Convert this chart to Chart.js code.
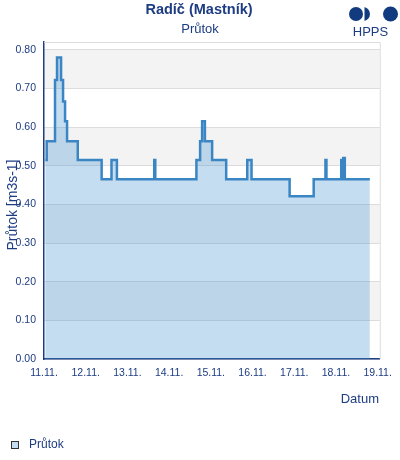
<!DOCTYPE html>
<html>
<head>
<meta charset="utf-8">
<script src="https://cdn.jsdelivr.net/npm/chart.js@4"></script>
<style>
html,body{margin:0;padding:0;background:#fff;}
#wrap{width:400px;height:460px;}
</style>
</head>
<body>
<div id="wrap"><canvas id="c" width="400" height="460"></canvas></div>
<script>
// Time in days since 11.11. 00:00 at which the flow changes to the given value
const times = [0.03, 0.065, 0.264, 0.3125, 0.409, 0.457, 0.505, 0.553, 0.81, 1.382, 1.618, 1.748, 2.644, 2.668, 3.654, 3.743, 3.791, 3.858, 4.031, 4.368, 4.873, 4.976, 5.889, 6.466, 6.748, 6.772, 7.127, 7.151, 7.175, 7.212, 7.812];
const flows = [0.515, 0.563, 0.722, 0.780, 0.722, 0.666, 0.615, 0.563, 0.515, 0.465, 0.515, 0.465, 0.515, 0.465, 0.515, 0.563, 0.615, 0.563, 0.515, 0.465, 0.515, 0.465, 0.421, 0.465, 0.515, 0.465, 0.515, 0.465, 0.520, 0.465, 0.465];
const dayLabels = ['11.11.', '12.11.', '13.11.', '14.11.', '15.11.', '16.11.', '17.11.', '18.11.', '19.11.'];
const yBands = [[0.1, 0.2], [0.3, 0.4], [0.5, 0.6], [0.7, 0.8]];

const NAVY = '#1d3c82';
const FONT = '"Liberation Sans", Arial, sans-serif';

const points = times.map((t, i) => ({x: t, y: flows[i]}));

const deco = {
  id: 'deco',
  beforeDraw(chart) {
    const {ctx, chartArea: a, scales: {y}} = chart;
    ctx.save();
    ctx.fillStyle = '#f3f3f3';
    yBands.forEach(([lo, hi]) => {
      const y1 = y.getPixelForValue(hi), y2 = y.getPixelForValue(lo);
      ctx.fillRect(a.left, y1, a.right - a.left, y2 - y1);
    });
    ctx.restore();
  },
  afterDraw(chart) {
    const {ctx, chartArea: a} = chart;
    ctx.save();
    ctx.strokeStyle = '#dcdcdc';
    ctx.lineWidth = 1;
    ctx.beginPath();
    ctx.moveTo(a.left, a.top + 0.5);
    ctx.lineTo(a.right + 0.5, a.top + 0.5);
    ctx.lineTo(a.right + 0.5, a.bottom);
    ctx.stroke();
    ctx.fillStyle = NAVY;
    ctx.textAlign = 'center';
    ctx.textBaseline = 'middle';
    ctx.font = 'bold 14.5px ' + FONT;
    ctx.fillText('Radíč (Mastník)', 199, 10);
    ctx.font = '13px ' + FONT;
    ctx.fillText('Průtok', 200, 29);
    ctx.textAlign = 'right';
    ctx.font = '13px ' + FONT;
    ctx.fillText('Datum', 379, 399);
    ctx.save();
    ctx.translate(13, 205);
    ctx.rotate(-Math.PI / 2);
    ctx.textAlign = 'center';
    ctx.font = '14px ' + FONT;
    ctx.fillText('Průtok [m3s-1]', 0, 0);
    ctx.restore();
    ctx.fillStyle = '#c5ddf1';
    ctx.fillRect(12, 442, 7, 7);
    ctx.strokeStyle = '#333';
    ctx.lineWidth = 1;
    ctx.strokeRect(11.5, 441.5, 7, 7);
    ctx.fillStyle = NAVY;
    ctx.textAlign = 'left';
    ctx.font = '12px ' + FONT;
    ctx.fillText('Průtok', 29, 445);
    ctx.fillStyle = '#123b7f';
    ctx.beginPath();
    ctx.arc(356, 14, 7, 0, Math.PI * 2);
    ctx.fill();
    ctx.save();
    ctx.beginPath();
    ctx.rect(364.5, 0, 10, 30);
    ctx.clip();
    ctx.beginPath();
    ctx.arc(363, 14, 7, 0, Math.PI * 2);
    ctx.fill();
    ctx.restore();
    ctx.beginPath();
    ctx.arc(390.5, 14, 7.5, 0, Math.PI * 2);
    ctx.fill();
    ctx.textAlign = 'center';
    ctx.font = '13px ' + FONT;
    ctx.fillStyle = NAVY;
    ctx.fillText('HPPS', 370.5, 32);
    ctx.restore();
  }
};

new Chart(document.getElementById('c'), {
  type: 'line',
  data: {
    datasets: [{
      label: 'Průtok',
      data: points,
      stepped: true,
      fill: 'origin',
      backgroundColor: 'rgba(79,152,212,0.33)',
      borderColor: '#3a86c4',
      borderWidth: 2.5,
      pointRadius: 0,
      tension: 0
    }]
  },
  options: {
    responsive: false,
    animation: false,
    events: [],
    layout: {padding: {top: 42, right: 20, bottom: 0, left: 0}},
    plugins: {legend: {display: false}, tooltip: {enabled: false}, title: {display: false}},
    scales: {
      x: {
        type: 'linear',
        min: 0,
        max: 8.05,
        afterFit(s) { s.height = 101; },
        grid: {display: false, drawTicks: false},
        border: {display: true, color: NAVY, width: 1.5},
        ticks: {
          stepSize: 1,
          includeBounds: false,
          autoSkip: false,
          maxRotation: 0,
          padding: 8,
          color: NAVY,
          font: {family: FONT, size: 10.5},
          callback: (v) => dayLabels[Math.round(v)] ?? ''
        }
      },
      y: {
        min: 0,
        max: 0.82,
        afterFit(s) { s.width = 44; },
        grid: {color: '#dcdcdc', lineWidth: 1, drawTicks: false},
        border: {display: true, color: NAVY, width: 1.5},
        ticks: {
          stepSize: 0.1,
          includeBounds: false,
          padding: 8,
          color: NAVY,
          font: {family: FONT, size: 10.5},
          callback: (v) => Number(v).toFixed(2)
        }
      }
    }
  },
  plugins: [deco]
});
</script>
</body>
</html>
